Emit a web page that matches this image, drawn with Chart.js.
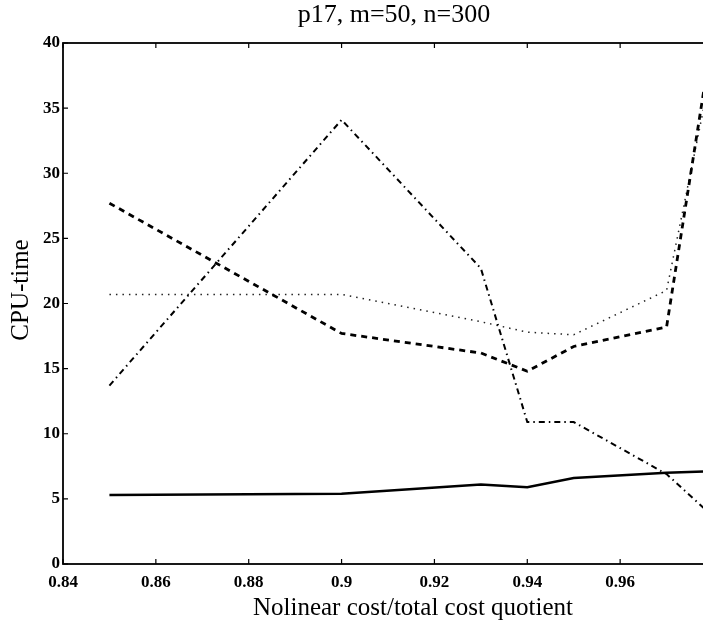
<!DOCTYPE html>
<html>
<head>
<meta charset="utf-8">
<script src="https://cdn.jsdelivr.net/npm/chart.js@4"></script>
<style>
  html, body { margin: 0; padding: 0; background: #fff; overflow: hidden; }
</style>
</head>
<body>
<canvas id="mycanvas" width="720" height="624"></canvas>
<script>
// quotient values on the x axis
var quotients = [0.85, 0.9, 0.93, 0.94, 0.95, 0.97, 0.978];

// CPU-time for each line
var solidTimes   = [5.3, 5.4, 6.1, 5.9, 6.6, 7.0, 7.1];
var dashedTimes  = [27.7, 17.7, 16.2, 14.8, 16.7, 18.2, 36.3];
var dashDotTimes = [13.7, 34.1, 22.7, 10.9, 10.9, 6.9, 4.3];
var dottedTimes  = [20.7, 20.7, 18.6, 17.8, 17.6, 21.0, 35.0];

var xTicks = [0.84, 0.86, 0.88, 0.9, 0.92, 0.94, 0.96, 0.98];
var yTicks = [0, 5, 10, 15, 20, 25, 30, 35, 40];

var chartTitle = 'p17, m=50, n=300';
var xTitle = 'Nolinear cost/total cost quotient';
var yTitle = 'CPU-time';

function points(values) {
	var out = [];
	for (var i in values) {
		out.push({x: quotients[i], y: values[i]});
	}
	return out;
}

var serif = "'Liberation Serif', 'DejaVu Serif', serif";

// frame + inward ticks + texts, matlab style
var matlabAxes = {
	id: 'matlabAxes',
	afterDraw: function(chart) {
		var ctx = chart.ctx;
		var a = chart.chartArea;
		var xs = chart.scales.x, ys = chart.scales.y;
		ctx.save();
		ctx.strokeStyle = '#000';
		ctx.lineWidth = 1.8;
		ctx.strokeRect(a.left, a.top, a.right - a.left, a.bottom - a.top);
		ctx.lineWidth = 1.2;
		ctx.beginPath();
		xTicks.forEach(function(t) {
			var px = xs.getPixelForValue(t);
			ctx.moveTo(px, a.bottom); ctx.lineTo(px, a.bottom - 5);
			ctx.moveTo(px, a.top); ctx.lineTo(px, a.top + 5);
		});
		yTicks.forEach(function(t) {
			var py = ys.getPixelForValue(t);
			ctx.moveTo(a.left, py); ctx.lineTo(a.left + 5, py);
			ctx.moveTo(a.right, py); ctx.lineTo(a.right - 5, py);
		});
		ctx.stroke();

		ctx.fillStyle = '#000';
		ctx.textAlign = 'center';
		ctx.textBaseline = 'middle';
		ctx.font = '26px ' + serif;
		ctx.fillText(chartTitle, 394, 15);
		ctx.font = '25px ' + serif;
		ctx.fillText(xTitle, 413, 608);
		ctx.translate(21, 290);
		ctx.rotate(-Math.PI / 2);
		ctx.fillText(yTitle, 0, 0);
		ctx.restore();
	}
};

var ctx = document.getElementById('mycanvas');

var chart = new Chart(ctx, {
	type: 'line',
	data: {
		datasets: [
			{
				label: 'solid',
				data: points(solidTimes),
				borderColor: '#000',
				borderWidth: 2.5
			},
			{
				label: 'dashed',
				data: points(dashedTimes),
				borderColor: '#000',
				borderWidth: 2.8,
				borderDash: [6, 5]
			},
			{
				label: 'dash-dot',
				data: points(dashDotTimes),
				borderColor: '#000',
				borderWidth: 2,
				borderDash: [6, 4, 1.5, 4]
			},
			{
				label: 'dotted',
				data: points(dottedTimes),
				borderColor: '#222',
				borderWidth: 1.5,
				borderDash: [1.5, 5]
			}
		]
	},
	options: {
		responsive: false,
		animation: false,
		devicePixelRatio: 1,
		layout: { padding: { top: 43, right: 7, left: 0, bottom: 0 } },
		elements: {
			point: { radius: 0 },
			line: { tension: 0, fill: false }
		},
		plugins: {
			legend: { display: false },
			tooltip: { enabled: false }
		},
		scales: {
			x: {
				type: 'linear',
				min: 0.84,
				max: 0.98,
				afterBuildTicks: function(scale) {
					scale.ticks = xTicks.slice(0, 7).map(function(v) { return {value: v}; });
				},
				afterFit: function(scale) { scale.height = 60; },
				grid: { display: false, drawTicks: false },
				border: { display: false },
				ticks: {
					color: '#000',
					padding: 8,
					maxRotation: 0,
					autoSkip: false,
					font: { family: serif, size: 17, weight: 'bold' },
					callback: function(v) { return String(Math.round(v * 100) / 100); }
				}
			},
			y: {
				min: 0,
				max: 40,
				afterBuildTicks: function(scale) {
					scale.ticks = yTicks.map(function(v) { return {value: v}; });
				},
				afterFit: function(scale) { scale.width = 63; },
				grid: { display: false, drawTicks: false },
				border: { display: false },
				ticks: {
					color: '#000',
					padding: 3,
					font: { family: serif, size: 17, weight: 'bold' }
				}
			}
		}
	},
	plugins: [matlabAxes]
});
</script>
</body>
</html>
